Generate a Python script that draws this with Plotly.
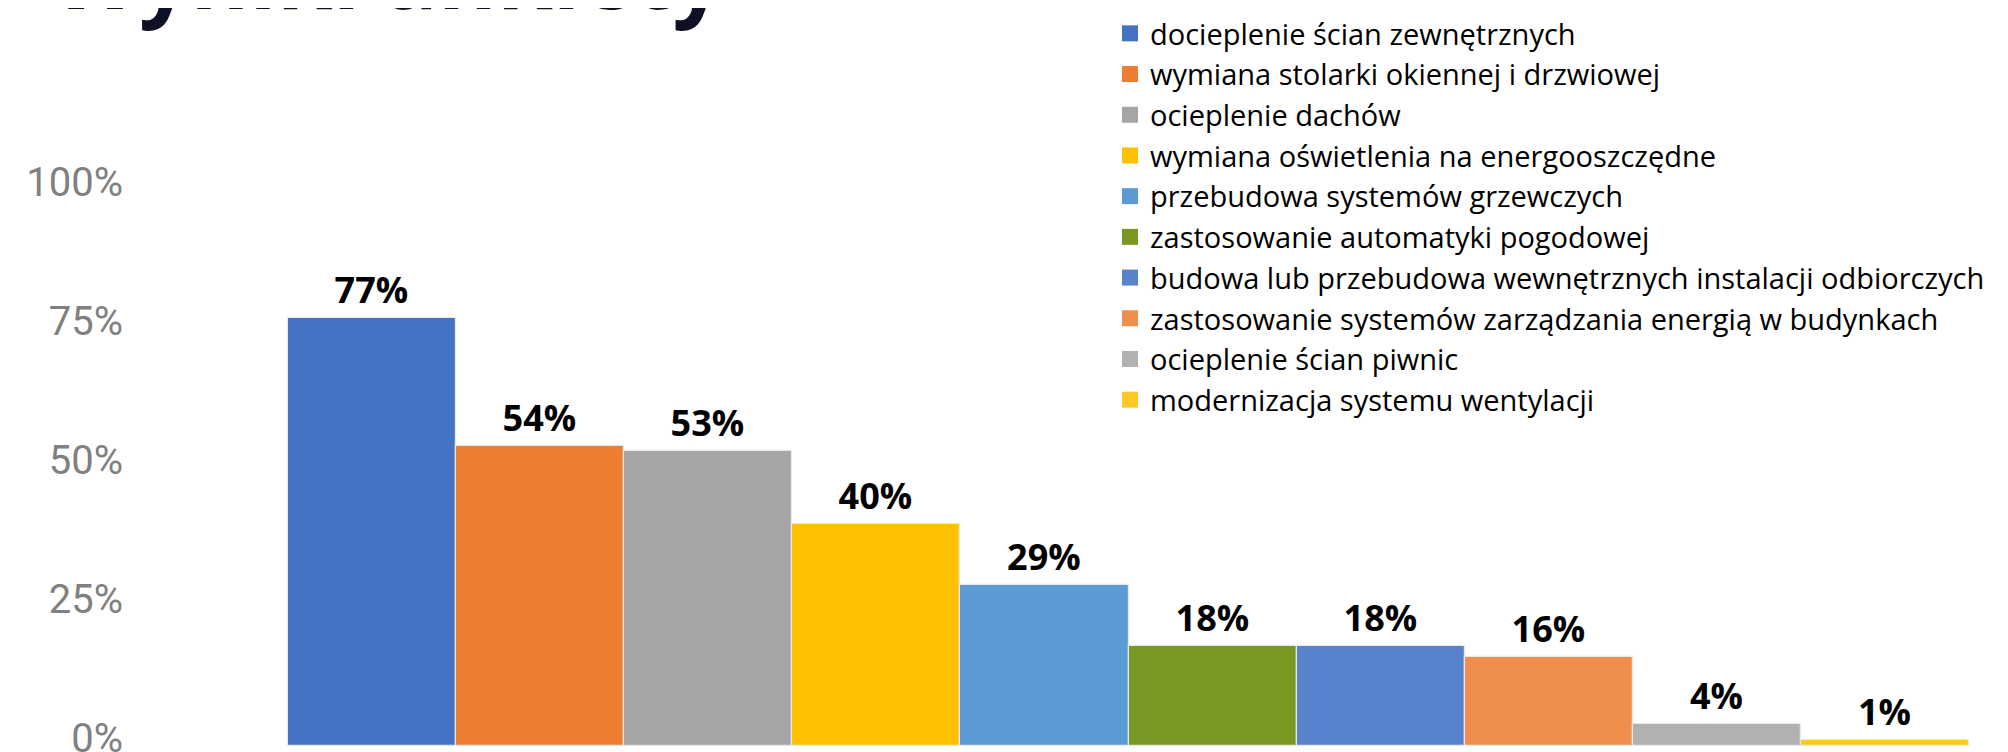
import plotly.graph_objects as go

categories = [
    "docieplenie ścian zewnętrznych",
    "wymiana stolarki okiennej i drzwiowej",
    "ocieplenie dachów",
    "wymiana oświetlenia na energooszczędne",
    "przebudowa systemów grzewczych",
    "zastosowanie automatyki pogodowej",
    "budowa lub przebudowa wewnętrznych instalacji odbiorczych",
    "zastosowanie systemów zarządzania energią w budynkach",
    "ocieplenie ścian piwnic",
    "modernizacja systemu wentylacji",
]
values = [0.77, 0.54, 0.53, 0.40, 0.29, 0.18, 0.18, 0.16, 0.04, 0.01]
colors = ["#4472C4", "#ED7D31", "#A5A5A5", "#FFC000", "#5B9BD5",
          "#789822", "#5882CB", "#EF8E4D", "#B1B1B1", "#FFC726"]
tick_vals = [0, 0.25, 0.5, 0.75, 1.0]
tick_text = ["0%", "25%", "50%", "75%", "100%"]
title_text = "Wyniki ankiety"

W, H = 2008, 752
ML, MR, MT, MB = 116, 18, 182, 14
plot_w = W - ML - MR
plot_h = H - MT - MB

fig = go.Figure()
for i, (cat, val, col) in enumerate(zip(categories, values, colors)):
    fig.add_trace(go.Bar(
        x=[i], y=[val], width=1, name=cat,
        marker=dict(color=col, line=dict(color="#E8E8E8", width=1.2)),
        texttemplate="%{y:.0%}", textposition="outside",
        textfont=dict(family="Open Sans", size=36, color="#000000", weight="bold"),
        cliponaxis=False, showlegend=False,
    ))
    fig.add_trace(go.Scatter(
        x=[None], y=[None], mode="markers", name=cat,
        marker=dict(symbol="square", size=16, color=col),
        showlegend=True,
    ))

fig.update_layout(
    width=W, height=H,
    paper_bgcolor="white", plot_bgcolor="white",
    margin=dict(l=ML, r=MR, t=MT, b=MB, autoexpand=False),
    barmode="overlay", bargap=0,
    showlegend=True,
    legend=dict(
        xref="container", yref="container",
        x=1102 / W, y=1, xanchor="left", yanchor="top",
        font=dict(family="Open Sans", size=29, color="#000000"),
        itemsizing="trace", tracegroupgap=0, bgcolor="rgba(0,0,0,0)",
        maxheight=900,
    ),
    xaxis=dict(range=[-0.5 - (280 - ML) / 168.1, 9.5 + (W - MR - 1961) / 168.1],
               showticklabels=False, showgrid=False,
               zeroline=False, showline=False, ticks=""),
    yaxis=dict(range=[0, 1], tickvals=tick_vals, ticktext=tick_text,
               showgrid=False, zeroline=False, showline=False, ticks="",
               ticklabeloverflow="allow", ticklabelshift=-8,
               tickfont=dict(family="Roboto", size=40, color="#808080")),
    annotations=[dict(
        text=title_text, xref="paper", yref="paper",
        x=(42 - ML) / plot_w, y=(H - MB - 29) / plot_h, xanchor="left", yanchor="bottom",
        showarrow=False,
        font=dict(family="Open Sans", size=90, color="#0E1026", weight="bold"),
    )],
)

fig.write_html("out.html")
